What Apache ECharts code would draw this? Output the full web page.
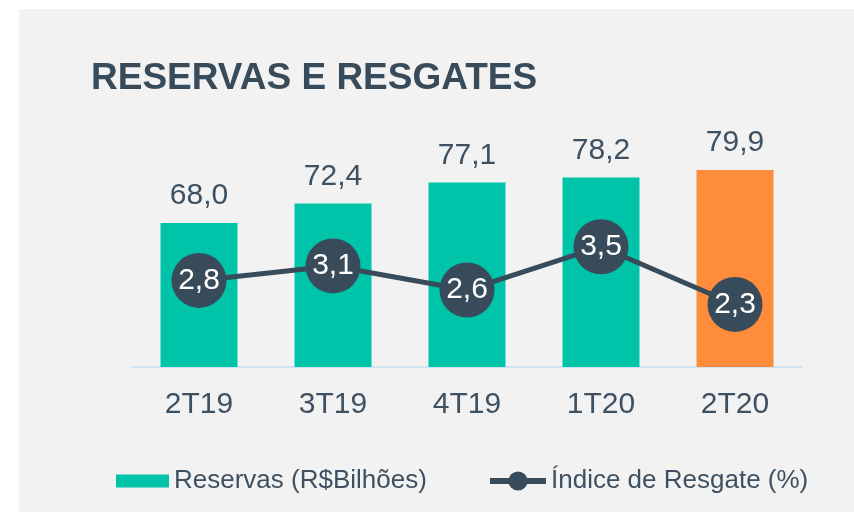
<!DOCTYPE html>
<html>
<head>
<meta charset="utf-8">
<script src="https://cdn.jsdelivr.net/npm/echarts@6/dist/echarts.min.js"></script>
<style>
  html, body { margin: 0; padding: 0; background: #ffffff; }
  #chart { width: 854px; height: 515px; }
</style>
</head>
<body>
<div id="chart"></div>
<script>
// dados do gráfico
const categorias = ['2T19', '3T19', '4T19', '1T20', '2T20'];
const reservas = [68.0, 72.4, 77.1, 78.2, 79.9];
const indiceResgate = [2.8, 3.1, 2.6, 3.5, 2.3];
const destaque = 4; // último trimestre em laranja

const corVerde = '#00c4a9';
const corLaranja = '#ff8c3a';
const corEscura = '#384b5a';
const corTexto = '#3e5162';
const fonte = '"Liberation Sans", Arial, sans-serif';

const fmt = v => v.toFixed(1).replace('.', ',');

const nomeBarra = 'Reservas (R$Bilhões)';
const nomeLinha = 'Índice de Resgate (%)';

const chart = echarts.init(document.getElementById('chart'));

const option = {
  animation: false,
  textStyle: { fontFamily: fonte },
  graphic: [{
    type: 'rect',
    z: -10,
    shape: { x: 19, y: 9, width: 835, height: 503 },
    style: { fill: '#f2f2f2' }
  }],
  title: {
    text: 'RESERVAS E RESGATES',
    left: 86,
    top: 55,
    textStyle: { fontFamily: fonte, fontSize: 37, fontWeight: 'bold', color: corEscura }
  },
  legend: [
    {
      left: 116,
      top: 468,
      padding: 0,
      icon: 'rect',
      itemWidth: 53,
      itemHeight: 13,
      textStyle: { fontFamily: fonte, fontSize: 26, color: corTexto },
      data: [nomeBarra]
    },
    {
      left: 487,
      top: 468,
      padding: 0,
      itemWidth: 56,
      itemHeight: 24,
      lineStyle: { width: 6 },
      textStyle: { fontFamily: fonte, fontSize: 26, color: corTexto },
      data: [nomeLinha]
    }
  ],
  grid: { left: 132, right: 52, top: 125, bottom: 148 },
  xAxis: {
    type: 'category',
    data: categorias,
    axisTick: { show: false },
    axisLine: { lineStyle: { color: '#cfe2f3', width: 2 } },
    axisLabel: { margin: 23, fontSize: 30, color: corTexto, fontFamily: fonte }
  },
  yAxis: [
    { type: 'value', min: 35.7, max: 90, show: false },
    { type: 'value', min: 1.0, max: 6.03, show: false }
  ],
  series: [
    {
      name: nomeBarra,
      type: 'bar',
      barWidth: 77,
      data: reservas.map((v, i) => (i === destaque ? { value: v, itemStyle: { color: corLaranja } } : v)),
      itemStyle: { color: corVerde },
      label: {
        show: true,
        position: 'top',
        distance: 12,
        fontSize: 30,
        color: corTexto,
        fontFamily: fonte,
        formatter: p => fmt(p.value)
      }
    },
    {
      name: nomeLinha,
      type: 'line',
      yAxisIndex: 1,
      data: indiceResgate,
      symbol: 'circle',
      symbolSize: 55,
      z: 5,
      itemStyle: { color: corEscura },
      lineStyle: { color: corEscura, width: 5 },
      label: {
        show: true,
        position: 'inside',
        fontSize: 30,
        color: '#ffffff',
        fontFamily: fonte,
        formatter: p => fmt(p.value)
      }
    }
  ]
};

chart.setOption(option);
</script>
</body>
</html>
